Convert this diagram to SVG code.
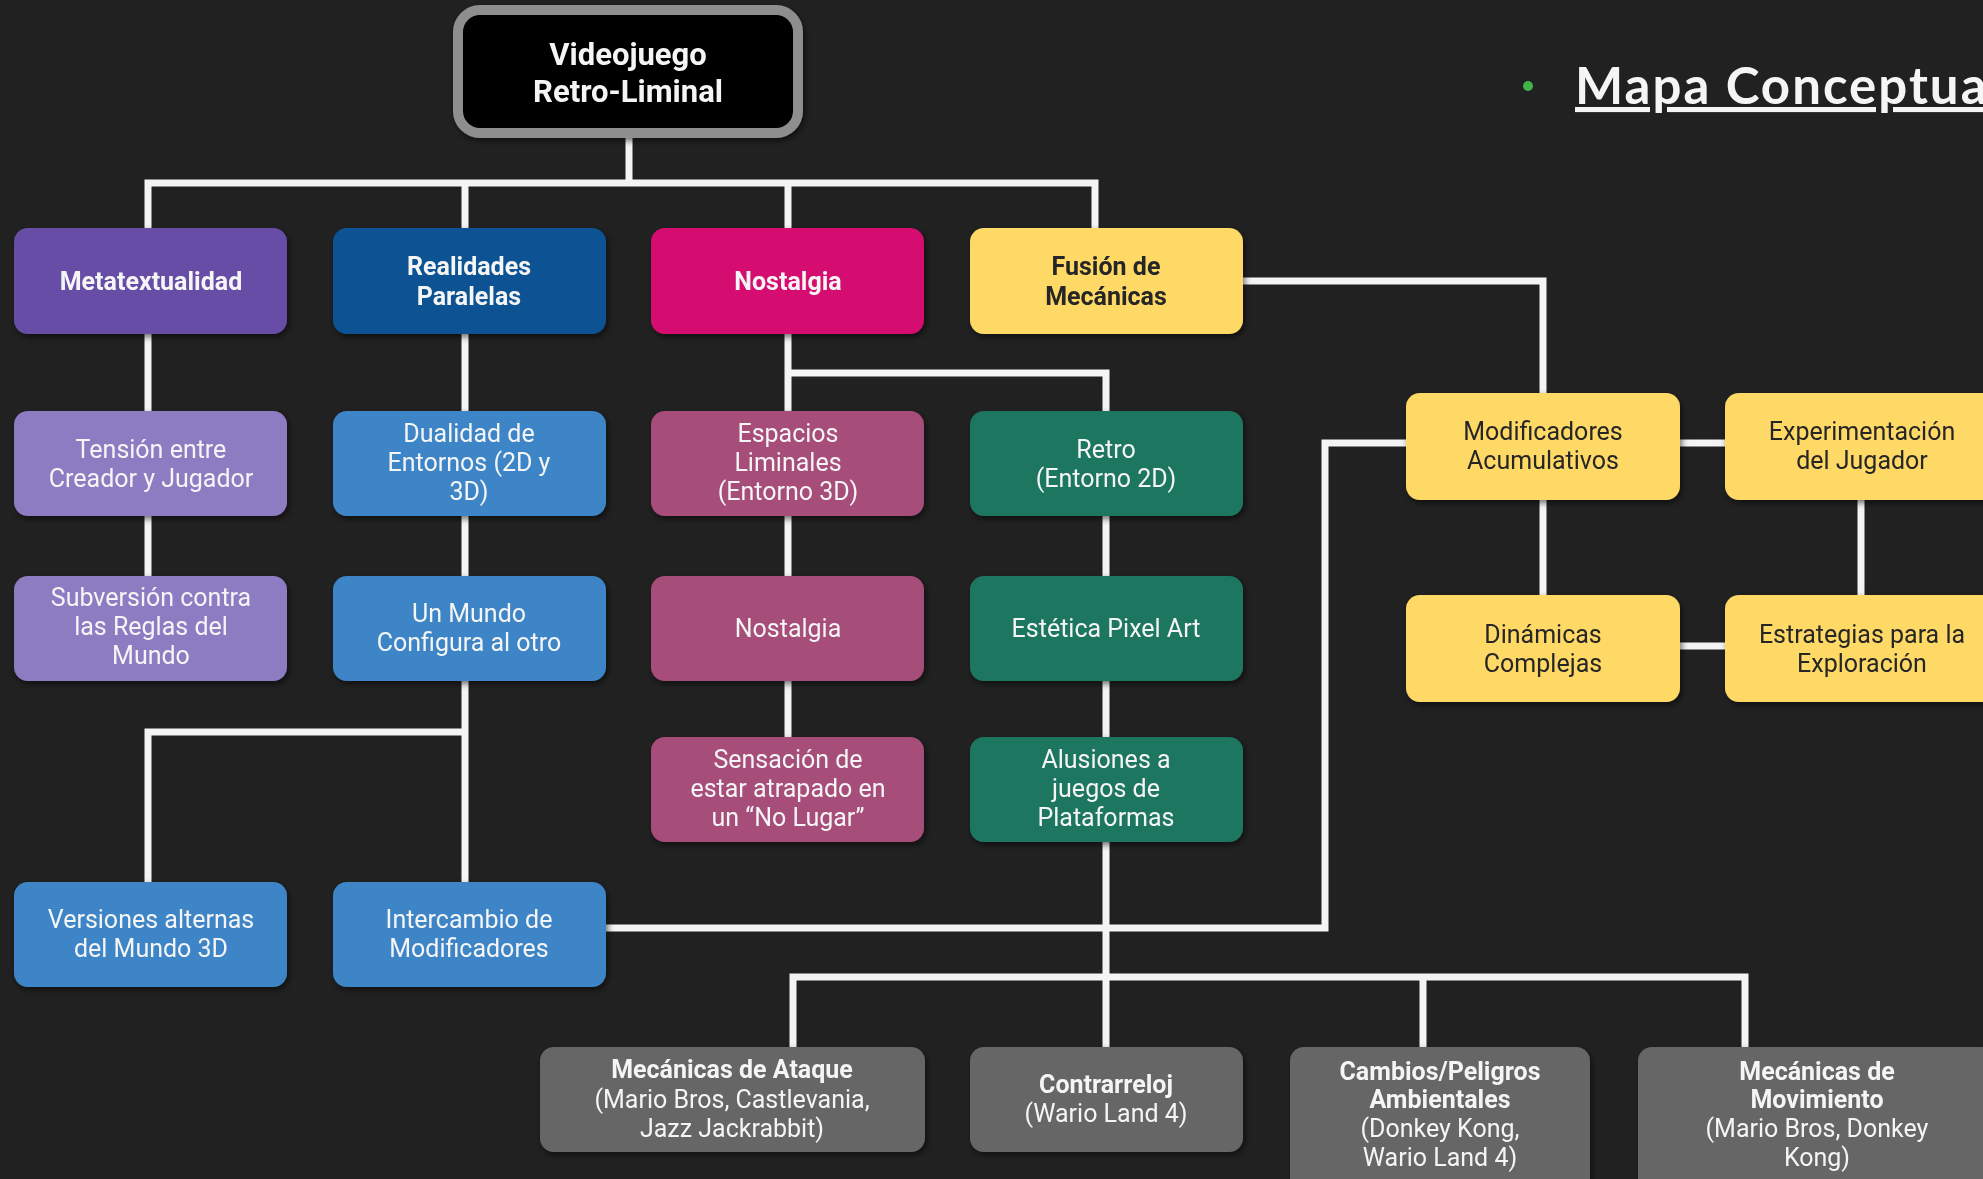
<svg xmlns="http://www.w3.org/2000/svg" width="1983" height="1179" viewBox="0 0 1983 1179">
<defs>
<filter id="sh" x="-10%" y="-10%" width="125%" height="130%">
<feDropShadow dx="2" dy="3" stdDeviation="3" flood-color="#000" flood-opacity="0.55"/>
</filter>
<style>
.c{fill:none;stroke:#f4f4f4;stroke-width:7;stroke-linejoin:miter;stroke-linecap:butt}
.n{filter:url(#sh)}
text{font-family:Roboto,"Liberation Sans",sans-serif;font-size:25px;text-anchor:middle;fill:#f5f5f5}
.b{font-weight:700}
.d{fill:#262626}
.purple{fill:#674ea7}.lpurple{fill:#8e7cc3}
.dblue{fill:#0b5394}.lblue{fill:#3d85c6}
.pink{fill:#d5106f}.lpink{fill:#a64d79}
.yellow{fill:#ffd966}.green{fill:#1d7660}.gray{fill:#666666}
</style>
</defs>
<rect width="1983" height="1179" fill="#212121"/>

<g id="title">
<circle cx="1528" cy="86" r="5" fill="#3fb54a"/>
<text x="1575" y="104" style="font-family:Lato,'Open Sans',sans-serif;font-size:51px;font-weight:700;text-anchor:start;letter-spacing:2px;text-decoration:underline">Mapa Conceptual</text>
</g>

<g id="connectors">
<path class="c" d="M629,137 V183 M148,228 V183 H1095 V228 M465,183 V228 M788,183 V228"/>
<path class="c" d="M148,334 V411 M148,516 V576"/>
<path class="c" d="M465,334 V411 M465,516 V576 M465,681 V882 M148,882 V732 H465"/>
<path class="c" d="M788,334 V411 M788,373 H1106 V411 M788,516 V576 M788,681 V737"/>
<path class="c" d="M1106,516 V576 M1106,681 V737 M1106,842 V1047"/>
<path class="c" d="M606,928 H1325 V443 H1406"/>
<path class="c" d="M793,1047 V977 H1745 V1047 M1423,977 V1047"/>
<path class="c" d="M1133,281 H1543 V393"/>
<path class="c" d="M1680,443 H1725 M1543,500 V595 M1861,500 V595 M1680,646 H1725"/>
</g>

<g id="root" class="n">
<rect x="458" y="10" width="340" height="123" rx="22" fill="#000" stroke="#8e8e8e" stroke-width="10"/>
<text class="b" x="628" y="65" style="font-size:31px">Videojuego</text>
<text class="b" x="628" y="102" style="font-size:31px">Retro-Liminal</text>
</g>

<g id="metatextualidad" class="n"><rect class="purple" x="14" y="228" width="273" height="106" rx="14"/>
<text class="b" x="151" y="290">Metatextualidad</text></g>
<g id="realidades" class="n"><rect class="dblue" x="333" y="228" width="273" height="106" rx="14"/>
<text class="b" x="469" y="275">Realidades</text><text class="b" x="469" y="305">Paralelas</text></g>
<g id="nostalgia" class="n"><rect class="pink" x="651" y="228" width="273" height="106" rx="14"/>
<text class="b" x="788" y="290">Nostalgia</text></g>
<g id="fusion" class="n"><rect class="yellow" x="970" y="228" width="273" height="106" rx="14"/>
<text class="b d" x="1106" y="275">Fusión de</text><text class="b d" x="1106" y="305">Mecánicas</text></g>

<g id="tension" class="n"><rect class="lpurple" x="14" y="411" width="273" height="105" rx="14"/>
<text x="151" y="458">Tensión entre</text><text x="151" y="487">Creador y Jugador</text></g>
<g id="dualidad" class="n"><rect class="lblue" x="333" y="411" width="273" height="105" rx="14"/>
<text x="469" y="442">Dualidad de</text><text x="469" y="471">Entornos (2D y</text><text x="469" y="500">3D)</text></g>
<g id="espacios" class="n"><rect class="lpink" x="651" y="411" width="273" height="105" rx="14"/>
<text x="788" y="442">Espacios</text><text x="788" y="471">Liminales</text><text x="788" y="500">(Entorno 3D)</text></g>
<g id="retro" class="n"><rect class="green" x="970" y="411" width="273" height="105" rx="14"/>
<text x="1106" y="458">Retro</text><text x="1106" y="487">(Entorno 2D)</text></g>

<g id="subversion" class="n"><rect class="lpurple" x="14" y="576" width="273" height="105" rx="14"/>
<text x="151" y="606">Subversión contra</text><text x="151" y="635">las Reglas del</text><text x="151" y="664">Mundo</text></g>
<g id="unmundo" class="n"><rect class="lblue" x="333" y="576" width="273" height="105" rx="14"/>
<text x="469" y="622">Un Mundo</text><text x="469" y="651">Configura al otro</text></g>
<g id="nostalgia2" class="n"><rect class="lpink" x="651" y="576" width="273" height="105" rx="14"/>
<text x="788" y="637">Nostalgia</text></g>
<g id="estetica" class="n"><rect class="green" x="970" y="576" width="273" height="105" rx="14"/>
<text x="1106" y="637">Estética Pixel Art</text></g>

<g id="sensacion" class="n"><rect class="lpink" x="651" y="737" width="273" height="105" rx="14"/>
<text x="788" y="768">Sensación de</text><text x="788" y="797">estar atrapado en</text><text x="788" y="826">un “No Lugar”</text></g>
<g id="alusiones" class="n"><rect class="green" x="970" y="737" width="273" height="105" rx="14"/>
<text x="1106" y="768">Alusiones a</text><text x="1106" y="797">juegos de</text><text x="1106" y="826">Plataformas</text></g>

<g id="versiones" class="n"><rect class="lblue" x="14" y="882" width="273" height="105" rx="14"/>
<text x="151" y="928">Versiones alternas</text><text x="151" y="957">del Mundo 3D</text></g>
<g id="intercambio" class="n"><rect class="lblue" x="333" y="882" width="273" height="105" rx="14"/>
<text x="469" y="928">Intercambio de</text><text x="469" y="957">Modificadores</text></g>

<g id="modificadores" class="n"><rect class="yellow" x="1406" y="393" width="274" height="107" rx="14"/>
<text class="d" x="1543" y="440">Modificadores</text><text class="d" x="1543" y="469">Acumulativos</text></g>
<g id="experimentacion" class="n"><rect class="yellow" x="1725" y="393" width="274" height="107" rx="14"/>
<text class="d" x="1862" y="440">Experimentación</text><text class="d" x="1862" y="469">del Jugador</text></g>
<g id="dinamicas" class="n"><rect class="yellow" x="1406" y="595" width="274" height="107" rx="14"/>
<text class="d" x="1543" y="643">Dinámicas</text><text class="d" x="1543" y="672">Complejas</text></g>
<g id="estrategias" class="n"><rect class="yellow" x="1725" y="595" width="274" height="107" rx="14"/>
<text class="d" x="1862" y="643">Estrategias para la</text><text class="d" x="1862" y="672">Exploración</text></g>

<g id="ataque" class="n"><rect class="gray" x="540" y="1047" width="385" height="105" rx="14"/>
<text class="b" x="732" y="1078">Mecánicas de Ataque</text><text x="732" y="1108">(Mario Bros, Castlevania,</text><text x="732" y="1137">Jazz Jackrabbit)</text></g>
<g id="contrarreloj" class="n"><rect class="gray" x="970" y="1047" width="273" height="105" rx="14"/>
<text class="b" x="1106" y="1093">Contrarreloj</text><text x="1106" y="1122">(Wario Land 4)</text></g>
<g id="cambios" class="n"><rect class="gray" x="1290" y="1047" width="300" height="160" rx="14"/>
<text class="b" x="1440" y="1080">Cambios/Peligros</text><text class="b" x="1440" y="1108">Ambientales</text><text x="1440" y="1137">(Donkey Kong,</text><text x="1440" y="1166">Wario Land 4)</text></g>
<g id="movimiento" class="n"><rect class="gray" x="1638" y="1047" width="358" height="160" rx="14"/>
<text class="b" x="1817" y="1080">Mecánicas de</text><text class="b" x="1817" y="1108">Movimiento</text><text x="1817" y="1137">(Mario Bros, Donkey</text><text x="1817" y="1166">Kong)</text></g>
</svg>
